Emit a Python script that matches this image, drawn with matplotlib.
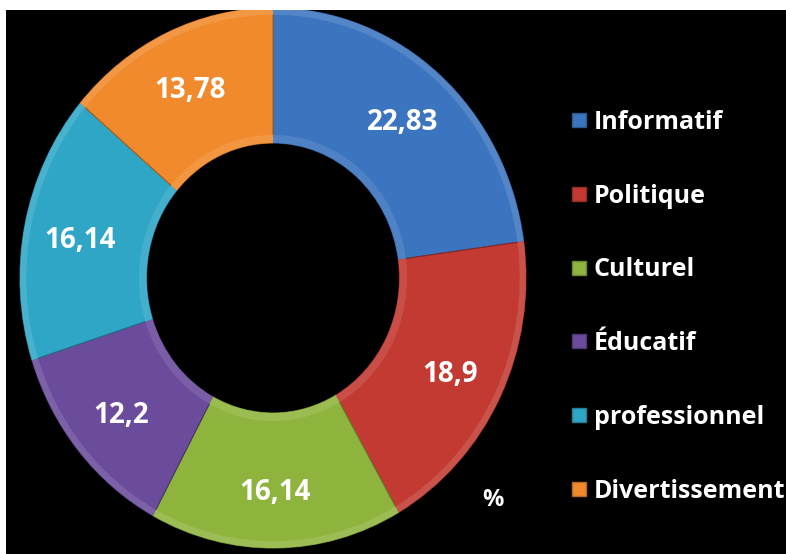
import matplotlib.pyplot as plt
from matplotlib.patches import Rectangle
from matplotlib.lines import Line2D
import matplotlib.colors as mcolors

# Répartition des contenus (%)
categories = ['Informatif', 'Politique', 'Culturel', 'Éducatif', 'professionnel', 'Divertissement']
valeurs = [22.83, 18.9, 16.14, 12.2, 16.14, 13.78]
etiquettes = ['22,83', '18,9', '16,14', '12,2', '16,14', '13,78']
couleurs = ['#3b74bf', '#c23a32', '#8fb43e', '#6b4b9c', '#2fa6c6', '#f08a2c']

plt.rcParams['font.family'] = ['Open Sans', 'DejaVu Sans']
plt.rcParams['font.weight'] = 'bold'

W, H = 786, 554
fig = plt.figure(figsize=(W / 100, H / 100), dpi=100, facecolor='black')

# anneau légèrement étiré verticalement
ax = fig.add_axes([20 / W, 6 / H, 506 / W, 540 / H])
ax.axis('off')

def eclaircir(c, f):
    r, g, b = mcolors.to_rgb(c)
    return (r + (1 - r) * f, g + (1 - g) * f, b + (1 - b) * f)

def assombrir(c, f):
    r, g, b = mcolors.to_rgb(c)
    return (r * (1 - f), g * (1 - f), b * (1 - f))

it = iter(etiquettes)
wedges, _, textes = ax.pie(
    valeurs, colors=couleurs, startangle=90, counterclock=False,
    radius=1.0, wedgeprops=dict(width=0.5, linewidth=0.8),
    autopct=lambda p: next(it), pctdistance=0.78,
    textprops=dict(color='white', fontsize=20, fontweight='bold',
                   va='center_baseline'))
for w, c in zip(wedges, couleurs):
    w.set_edgecolor(assombrir(c, 0.3))

# effet de biseau : liserés clairs sur les bords extérieur et intérieur
ax.pie(valeurs, colors=[eclaircir(c, 0.12) for c in couleurs], startangle=90,
       counterclock=False, radius=1.0, wedgeprops=dict(width=0.025, linewidth=0))
ax.pie(valeurs, colors=[eclaircir(c, 0.1) for c in couleurs], startangle=90,
       counterclock=False, radius=0.53, wedgeprops=dict(width=0.03, linewidth=0))
ax.set_xlim(-1, 1)
ax.set_ylim(-1, 1)
ax.set_aspect('auto')

fig.text(493 / W, 1 - 500 / H, '%', color='white', fontsize=17,
         fontweight='bold', ha='center', va='center')

poignees = [Line2D([], [], marker='s', linestyle='none', markersize=10,
                   markerfacecolor=c, markeredgecolor=assombrir(c, 0.25))
            for c in couleurs]
leg = fig.legend(poignees, categories, loc='upper left',
                 bbox_to_anchor=(571 / W, 1 - 110 / H), frameon=False,
                 labelcolor='white', prop=dict(size=18, weight='bold'),
                 handlelength=0.65, handletextpad=0.25, labelspacing=1.95,
                 borderpad=0, borderaxespad=0)

# bordure blanche en haut et à gauche
fig.add_artist(Rectangle((0, 1 - 10 / H), 1, 10 / H, transform=fig.transFigure,
                         facecolor='white', edgecolor='none', zorder=10))
fig.add_artist(Rectangle((0, 0), 6 / W, 1, transform=fig.transFigure,
                         facecolor='white', edgecolor='none', zorder=10))

fig.savefig('out.png', dpi=100, facecolor='black')
